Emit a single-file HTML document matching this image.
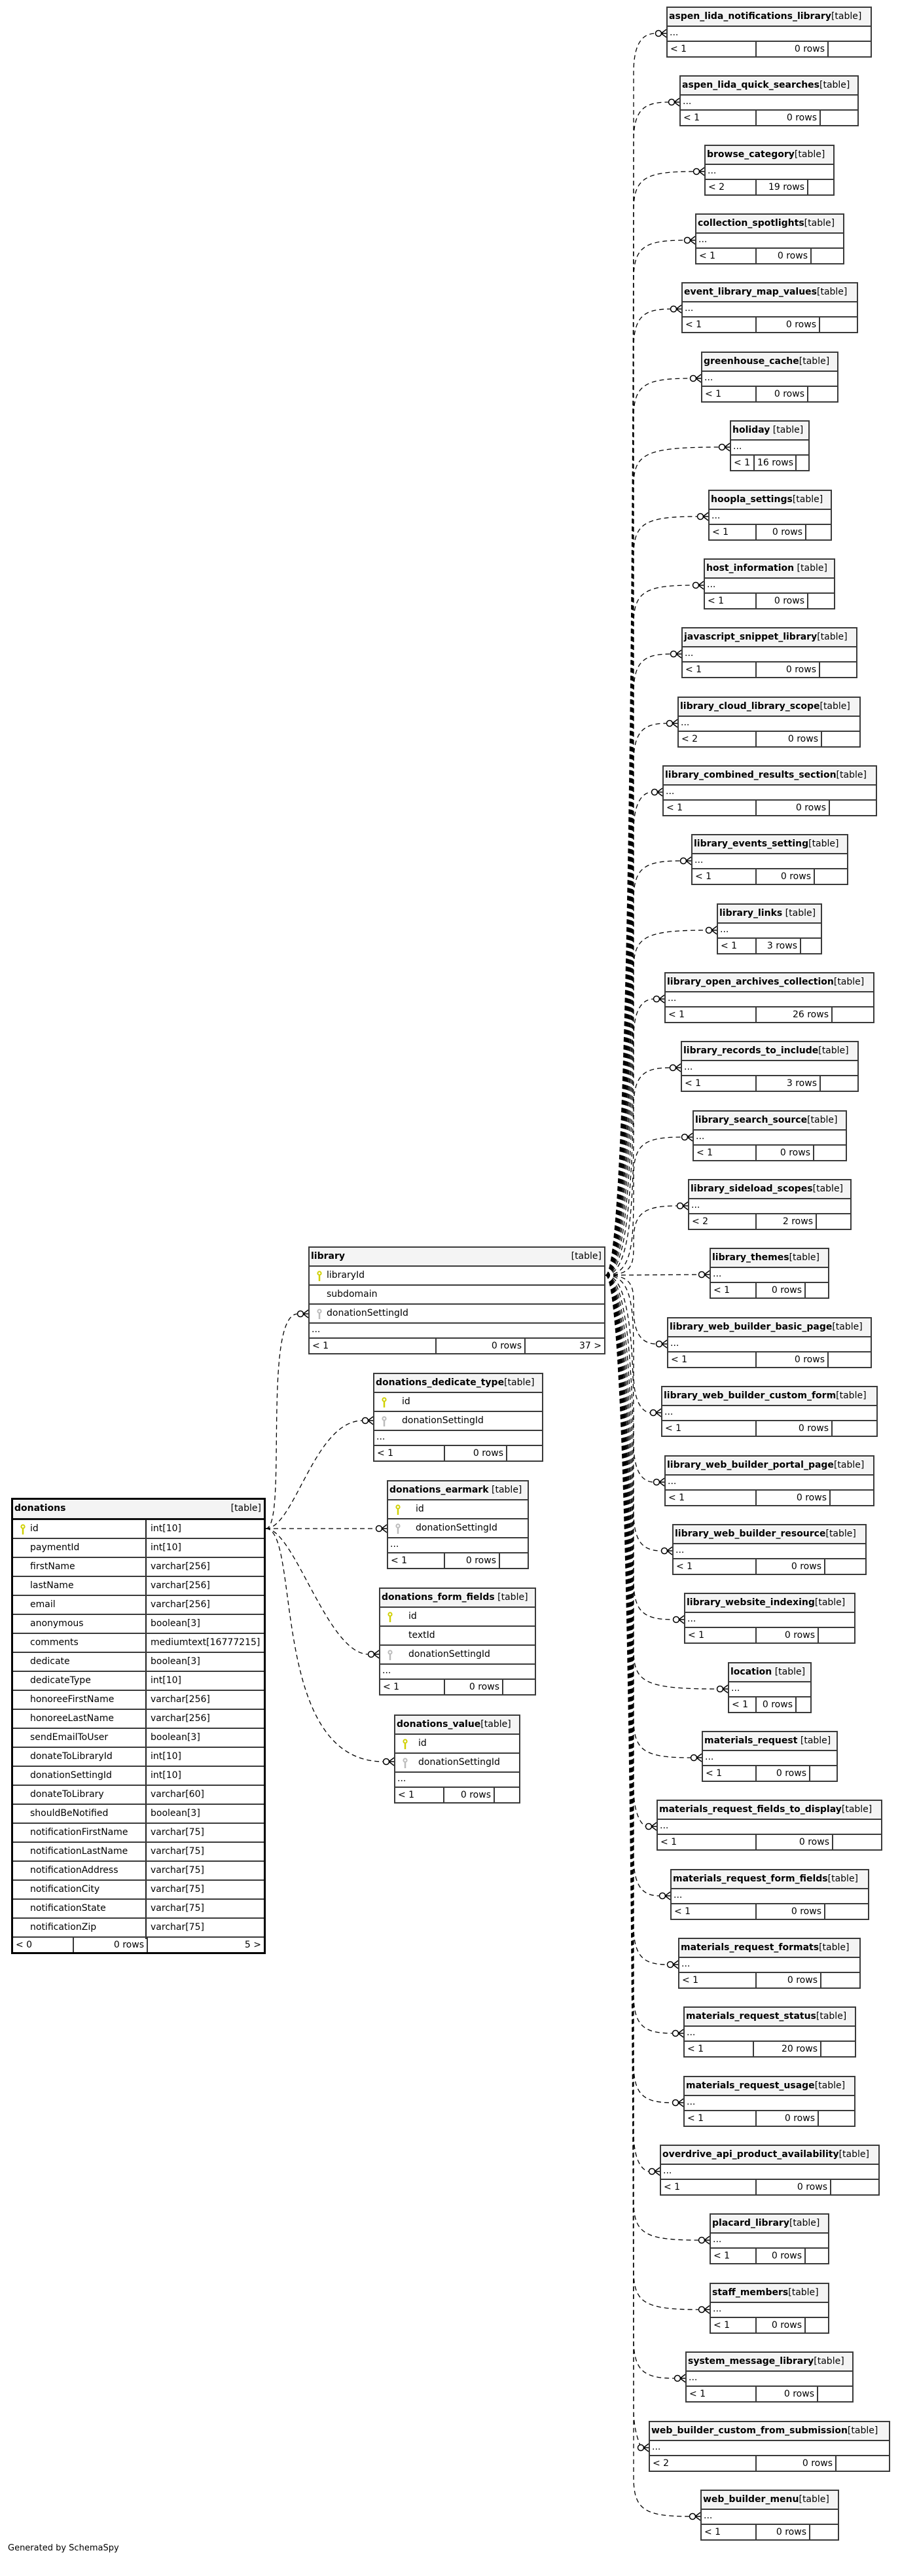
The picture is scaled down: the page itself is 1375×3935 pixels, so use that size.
<!DOCTYPE html>
<html><head><meta charset="utf-8"><style>
body{margin:0;width:1375px;height:3935px;position:relative;background:#fff;font-family:"DejaVu Sans","Liberation Sans",sans-serif;font-size:14px;color:#000;overflow:hidden}
.t{position:absolute;border:2px solid #3a3a3a;background:#fff;box-sizing:border-box}
.h{height:27px;background:#f4f4f4;border-bottom:2px solid #3a3a3a;white-space:nowrap;line-height:26px;padding-left:2px;overflow:hidden}
.h b{font-weight:bold}
.h i{font-style:normal;float:right;padding-right:4px}
.r{height:21px;border-bottom:2px solid #3a3a3a;line-height:18px;padding-left:3px;white-space:nowrap}
.c{height:27px;border-bottom:2px solid #3a3a3a;line-height:27px;white-space:nowrap;position:relative}
.f{height:22px;display:flex;line-height:22px;white-space:nowrap}
.f span{box-sizing:border-box;border-right:2px solid #3a3a3a;padding:0 4px;overflow:hidden}
.f span:last-child{border-right:none;flex:1}
.f span.rt{text-align:right}
.k{position:absolute;top:6px}
svg.e{position:absolute;left:0;top:0}
</style></head><body>
<svg class="e" width="1375" height="3935" viewBox="0 0 1375 3935" fill="none" stroke="#000" stroke-width="1.3">
<defs><g id="cf"><circle cx="-12" cy="0" r="4.5" fill="#fff" stroke="#000" stroke-width="1.5"/><path d="M-8 0 L0 -6 M-8 0 L0 0 M-8 0 L0 6" stroke-width="1.5"/></g></defs>
<g stroke-dasharray="7,5">
<path d="M925 1948 C970 1948 968 201 968 111 C968 61 985 51 1002 51"/>
<path d="M925 1948 C970 1948 968 306 968 216 C968 166 985 156 1022 156"/>
<path d="M925 1948 C970 1948 968 412 968 322 C968 272 985 262 1060 262"/>
<path d="M925 1948 C970 1948 968 517 968 427 C968 377 985 367 1046 367"/>
<path d="M925 1948 C970 1948 968 622 968 532 C968 482 985 472 1025 472"/>
<path d="M925 1948 C970 1948 968 728 968 638 C968 588 985 578 1055 578"/>
<path d="M925 1948 C970 1948 968 833 968 743 C968 693 985 683 1099 683"/>
<path d="M925 1948 C970 1948 968 939 968 849 C968 799 985 789 1066 789"/>
<path d="M925 1948 C970 1948 968 1044 968 954 C968 904 985 894 1059 894"/>
<path d="M925 1948 C970 1948 968 1149 968 1059 C968 1009 985 999 1025 999"/>
<path d="M925 1948 C970 1948 968 1255 968 1165 C968 1115 985 1105 1019 1105"/>
<path d="M925 1948 C970 1948 968 1360 968 1270 C968 1220 985 1210 996 1210"/>
<path d="M925 1948 C970 1948 968 1465 968 1375 C968 1325 985 1315 1040 1315"/>
<path d="M925 1948 C970 1948 968 1571 968 1481 C968 1431 985 1421 1079 1421"/>
<path d="M925 1948 C970 1948 968 1676 968 1586 C968 1536 985 1526 999 1526"/>
<path d="M925 1948 C970 1948 968 1781 968 1691 C968 1641 985 1631 1024 1631"/>
<path d="M925 1948 C970 1948 968 1887 968 1797 C968 1747 985 1737 1042 1737"/>
<path d="M925 1948 C970 1948 968 1927 968 1895 C968 1852 985 1842 1035 1842"/>
<path d="M925 1948 L1068 1947"/>
<path d="M925 1948 C970 1948 968 1969 968 2000 C968 2043 985 2053 1003 2053"/>
<path d="M925 1948 C970 1948 968 2008 968 2098 C968 2148 985 2158 994 2158"/>
<path d="M925 1948 C970 1948 968 2114 968 2204 C968 2254 985 2264 999 2264"/>
<path d="M925 1948 C970 1948 968 2219 968 2309 C968 2359 985 2369 1011 2369"/>
<path d="M925 1948 C970 1948 968 2324 968 2414 C968 2464 985 2474 1029 2474"/>
<path d="M925 1948 C970 1948 968 2430 968 2520 C968 2570 985 2580 1096 2580"/>
<path d="M925 1948 C970 1948 968 2535 968 2625 C968 2675 985 2685 1056 2685"/>
<path d="M925 1948 C970 1948 968 2640 968 2730 C968 2780 985 2790 987 2790"/>
<path d="M925 1948 C970 1948 968 2746 968 2836 C968 2886 985 2896 1008 2896"/>
<path d="M925 1948 C970 1948 968 2851 968 2941 C968 2991 985 3001 1020 3001"/>
<path d="M925 1948 C970 1948 968 2956 968 3046 C968 3096 985 3106 1028 3106"/>
<path d="M925 1948 C970 1948 968 3062 968 3152 C968 3202 985 3212 1028 3212"/>
<path d="M925 1948 C970 1948 968 3167 968 3257 C968 3307 985 3317 992 3317"/>
<path d="M925 1948 C970 1948 968 3272 968 3362 C968 3412 985 3422 1068 3422"/>
<path d="M925 1948 C970 1948 968 3378 968 3468 C968 3518 985 3528 1068 3528"/>
<path d="M925 1948 C970 1948 968 3483 968 3573 C968 3623 985 3633 1031 3633"/>
<path d="M925 1948 C970 1948 968 3589 968 3679 C968 3729 985 3739 975 3739"/>
<path d="M925 1948 C970 1948 968 3694 968 3784 C968 3834 985 3844 1054 3844"/>
<path d="M406 2335 C440 2335 400 2007 455 2007"/>
<path d="M406 2335 C450 2335 480 2170 554 2170"/>
<path d="M406 2335 L575 2335"/>
<path d="M406 2335 C450 2335 500 2527 563 2527"/>
<path d="M406 2335 C460 2335 410 2691 586 2691"/>
</g>
<g>
<use href="#cf" x="1018" y="51"/><use href="#cf" x="1038" y="156"/><use href="#cf" x="1076" y="262"/><use href="#cf" x="1062" y="367"/><use href="#cf" x="1041" y="472"/><use href="#cf" x="1071" y="578"/><use href="#cf" x="1115" y="683"/><use href="#cf" x="1082" y="789"/><use href="#cf" x="1075" y="894"/><use href="#cf" x="1041" y="999"/><use href="#cf" x="1035" y="1105"/><use href="#cf" x="1012" y="1210"/><use href="#cf" x="1056" y="1315"/><use href="#cf" x="1095" y="1421"/><use href="#cf" x="1015" y="1526"/><use href="#cf" x="1040" y="1631"/><use href="#cf" x="1058" y="1737"/><use href="#cf" x="1051" y="1842"/><use href="#cf" x="1084" y="1947"/><use href="#cf" x="1019" y="2053"/><use href="#cf" x="1010" y="2158"/><use href="#cf" x="1015" y="2264"/><use href="#cf" x="1027" y="2369"/><use href="#cf" x="1045" y="2474"/><use href="#cf" x="1112" y="2580"/><use href="#cf" x="1072" y="2685"/><use href="#cf" x="1003" y="2790"/><use href="#cf" x="1024" y="2896"/><use href="#cf" x="1036" y="3001"/><use href="#cf" x="1044" y="3106"/><use href="#cf" x="1044" y="3212"/><use href="#cf" x="1008" y="3317"/><use href="#cf" x="1084" y="3422"/><use href="#cf" x="1084" y="3528"/><use href="#cf" x="1047" y="3633"/><use href="#cf" x="991" y="3739"/><use href="#cf" x="1070" y="3844"/>
<use href="#cf" x="471" y="2007"/><use href="#cf" x="570" y="2170"/><use href="#cf" x="591" y="2335"/><use href="#cf" x="579" y="2527"/><use href="#cf" x="602" y="2691"/>
</g>
</svg>

<div class="t" style="left:1018px;top:10px;width:314px"><div class="h"><b>aspen_lida_notifications_library</b>[table]</div><div class="r">...</div><div class="f"><span style="width:136px">&lt; 1</span><span class="rt" style="width:110px">0 rows</span><span></span></div></div>
<div class="t" style="left:1038px;top:115px;width:274px"><div class="h"><b>aspen_lida_quick_searches</b>[table]</div><div class="r">...</div><div class="f"><span style="width:116px">&lt; 1</span><span class="rt" style="width:98px">0 rows</span><span></span></div></div>
<div class="t" style="left:1076px;top:221px;width:199px"><div class="h"><b>browse_category</b>[table]</div><div class="r">...</div><div class="f"><span style="width:78px">&lt; 2</span><span class="rt" style="width:79px">19 rows</span><span></span></div></div>
<div class="t" style="left:1062px;top:326px;width:228px"><div class="h"><b>collection_spotlights</b>[table]</div><div class="r">...</div><div class="f"><span style="width:92px">&lt; 1</span><span class="rt" style="width:84px">0 rows</span><span></span></div></div>
<div class="t" style="left:1041px;top:431px;width:270px"><div class="h"><b>event_library_map_values</b>[table]</div><div class="r">...</div><div class="f"><span style="width:113px">&lt; 1</span><span class="rt" style="width:97px">0 rows</span><span></span></div></div>
<div class="t" style="left:1071px;top:537px;width:210px"><div class="h"><b>greenhouse_cache</b>[table]</div><div class="r">...</div><div class="f"><span style="width:83px">&lt; 1</span><span class="rt" style="width:79px">0 rows</span><span></span></div></div>
<div class="t" style="left:1115px;top:642px;width:122px"><div class="h"><b>holiday</b> [table]</div><div class="r">...</div><div class="f"><span style="width:36px">&lt; 1</span><span class="rt" style="width:64px">16 rows</span><span></span></div></div>
<div class="t" style="left:1082px;top:748px;width:189px"><div class="h"><b>hoopla_settings</b>[table]</div><div class="r">...</div><div class="f"><span style="width:72px">&lt; 1</span><span class="rt" style="width:76px">0 rows</span><span></span></div></div>
<div class="t" style="left:1075px;top:853px;width:201px"><div class="h"><b>host_information</b> [table]</div><div class="r">...</div><div class="f"><span style="width:79px">&lt; 1</span><span class="rt" style="width:79px">0 rows</span><span></span></div></div>
<div class="t" style="left:1041px;top:958px;width:269px"><div class="h"><b>javascript_snippet_library</b>[table]</div><div class="r">...</div><div class="f"><span style="width:113px">&lt; 1</span><span class="rt" style="width:97px">0 rows</span><span></span></div></div>
<div class="t" style="left:1035px;top:1064px;width:280px"><div class="h"><b>library_cloud_library_scope</b>[table]</div><div class="r">...</div><div class="f"><span style="width:119px">&lt; 2</span><span class="rt" style="width:100px">0 rows</span><span></span></div></div>
<div class="t" style="left:1012px;top:1169px;width:328px"><div class="h"><b>library_combined_results_section</b>[table]</div><div class="r">...</div><div class="f"><span style="width:142px">&lt; 1</span><span class="rt" style="width:112px">0 rows</span><span></span></div></div>
<div class="t" style="left:1056px;top:1274px;width:240px"><div class="h"><b>library_events_setting</b>[table]</div><div class="r">...</div><div class="f"><span style="width:98px">&lt; 1</span><span class="rt" style="width:89px">0 rows</span><span></span></div></div>
<div class="t" style="left:1095px;top:1380px;width:161px"><div class="h"><b>library_links</b> [table]</div><div class="r">...</div><div class="f"><span style="width:59px">&lt; 1</span><span class="rt" style="width:68px">3 rows</span><span></span></div></div>
<div class="t" style="left:1015px;top:1485px;width:321px"><div class="h"><b>library_open_archives_collection</b>[table]</div><div class="r">...</div><div class="f"><span style="width:139px">&lt; 1</span><span class="rt" style="width:116px">26 rows</span><span></span></div></div>
<div class="t" style="left:1040px;top:1590px;width:272px"><div class="h"><b>library_records_to_include</b>[table]</div><div class="r">...</div><div class="f"><span style="width:114px">&lt; 1</span><span class="rt" style="width:98px">3 rows</span><span></span></div></div>
<div class="t" style="left:1058px;top:1696px;width:236px"><div class="h"><b>library_search_source</b>[table]</div><div class="r">...</div><div class="f"><span style="width:96px">&lt; 1</span><span class="rt" style="width:88px">0 rows</span><span></span></div></div>
<div class="t" style="left:1051px;top:1801px;width:250px"><div class="h"><b>library_sideload_scopes</b>[table]</div><div class="r">...</div><div class="f"><span style="width:103px">&lt; 2</span><span class="rt" style="width:92px">2 rows</span><span></span></div></div>
<div class="t" style="left:1084px;top:1906px;width:183px"><div class="h"><b>library_themes</b>[table]</div><div class="r">...</div><div class="f"><span style="width:70px">&lt; 1</span><span class="rt" style="width:75px">0 rows</span><span></span></div></div>
<div class="t" style="left:1019px;top:2012px;width:313px"><div class="h"><b>library_web_builder_basic_page</b>[table]</div><div class="r">...</div><div class="f"><span style="width:135px">&lt; 1</span><span class="rt" style="width:110px">0 rows</span><span></span></div></div>
<div class="t" style="left:1010px;top:2117px;width:331px"><div class="h"><b>library_web_builder_custom_form</b>[table]</div><div class="r">...</div><div class="f"><span style="width:144px">&lt; 1</span><span class="rt" style="width:116px">0 rows</span><span></span></div></div>
<div class="t" style="left:1015px;top:2223px;width:321px"><div class="h"><b>library_web_builder_portal_page</b>[table]</div><div class="r">...</div><div class="f"><span style="width:139px">&lt; 1</span><span class="rt" style="width:113px">0 rows</span><span></span></div></div>
<div class="t" style="left:1027px;top:2328px;width:297px"><div class="h"><b>library_web_builder_resource</b>[table]</div><div class="r">...</div><div class="f"><span style="width:127px">&lt; 1</span><span class="rt" style="width:105px">0 rows</span><span></span></div></div>
<div class="t" style="left:1045px;top:2433px;width:262px"><div class="h"><b>library_website_indexing</b>[table]</div><div class="r">...</div><div class="f"><span style="width:109px">&lt; 1</span><span class="rt" style="width:95px">0 rows</span><span></span></div></div>
<div class="t" style="left:1112px;top:2539px;width:128px"><div class="h"><b>location</b> [table]</div><div class="r">...</div><div class="f"><span style="width:42px">&lt; 1</span><span class="rt" style="width:61px">0 rows</span><span></span></div></div>
<div class="t" style="left:1072px;top:2644px;width:208px"><div class="h"><b>materials_request</b> [table]</div><div class="r">...</div><div class="f"><span style="width:82px">&lt; 1</span><span class="rt" style="width:82px">0 rows</span><span></span></div></div>
<div class="t" style="left:1003px;top:2749px;width:345px"><div class="h"><b>materials_request_fields_to_display</b>[table]</div><div class="r">...</div><div class="f"><span style="width:151px">&lt; 1</span><span class="rt" style="width:117px">0 rows</span><span></span></div></div>
<div class="t" style="left:1024px;top:2855px;width:304px"><div class="h"><b>materials_request_form_fields</b>[table]</div><div class="r">...</div><div class="f"><span style="width:130px">&lt; 1</span><span class="rt" style="width:105px">0 rows</span><span></span></div></div>
<div class="t" style="left:1036px;top:2960px;width:279px"><div class="h"><b>materials_request_formats</b>[table]</div><div class="r">...</div><div class="f"><span style="width:118px">&lt; 1</span><span class="rt" style="width:99px">0 rows</span><span></span></div></div>
<div class="t" style="left:1044px;top:3065px;width:264px"><div class="h"><b>materials_request_status</b>[table]</div><div class="r">...</div><div class="f"><span style="width:106px">&lt; 1</span><span class="rt" style="width:103px">20 rows</span><span></span></div></div>
<div class="t" style="left:1044px;top:3171px;width:263px"><div class="h"><b>materials_request_usage</b>[table]</div><div class="r">...</div><div class="f"><span style="width:110px">&lt; 1</span><span class="rt" style="width:95px">0 rows</span><span></span></div></div>
<div class="t" style="left:1008px;top:3276px;width:336px"><div class="h"><b>overdrive_api_product_availability</b>[table]</div><div class="r">...</div><div class="f"><span style="width:146px">&lt; 1</span><span class="rt" style="width:114px">0 rows</span><span></span></div></div>
<div class="t" style="left:1084px;top:3381px;width:183px"><div class="h"><b>placard_library</b>[table]</div><div class="r">...</div><div class="f"><span style="width:70px">&lt; 1</span><span class="rt" style="width:75px">0 rows</span><span></span></div></div>
<div class="t" style="left:1084px;top:3487px;width:183px"><div class="h"><b>staff_members</b>[table]</div><div class="r">...</div><div class="f"><span style="width:70px">&lt; 1</span><span class="rt" style="width:75px">0 rows</span><span></span></div></div>
<div class="t" style="left:1047px;top:3592px;width:257px"><div class="h"><b>system_message_library</b>[table]</div><div class="r">...</div><div class="f"><span style="width:107px">&lt; 1</span><span class="rt" style="width:94px">0 rows</span><span></span></div></div>
<div class="t" style="left:991px;top:3698px;width:369px"><div class="h"><b>web_builder_custom_from_submission</b>[table]</div><div class="r">...</div><div class="f"><span style="width:163px">&lt; 2</span><span class="rt" style="width:122px">0 rows</span><span></span></div></div>
<div class="t" style="left:1070px;top:3803px;width:212px"><div class="h"><b>web_builder_menu</b>[table]</div><div class="r">...</div><div class="f"><span style="width:84px">&lt; 1</span><span class="rt" style="width:82px">0 rows</span><span></span></div></div>

<div class="t" style="left:471px;top:1904px;width:454px"><div class="h"><b>library</b><i>[table]</i></div>
<div class="c"><svg class="k" style="left:11px" width="8" height="17"><circle cx="4" cy="4" r="2.6" stroke="#d0d000" stroke-width="2" fill="none"/><line x1="4" y1="6" x2="4" y2="16" stroke="#d0d000" stroke-width="2.5"/></svg><span style="position:absolute;left:26px">libraryId</span></div>
<div class="c"><span style="position:absolute;left:26px">subdomain</span></div>
<div class="c"><svg class="k" style="left:11px" width="8" height="17"><circle cx="4" cy="4" r="2.6" stroke="#bbb" stroke-width="2" fill="none"/><line x1="4" y1="6" x2="4" y2="16" stroke="#bbb" stroke-width="2.5"/></svg><span style="position:absolute;left:26px">donationSettingId</span></div>
<div class="r">...</div>
<div class="f"><span style="width:194px">&lt; 1</span><span class="rt" style="width:136px">0 rows</span><span class="rt">37 &gt;</span></div></div>

<div class="t" style="left:570px;top:2097px;width:260px"><div class="h"><b>donations_dedicate_type</b>[table]</div>
<div class="c"><svg class="k" style="left:11px" width="8" height="17"><circle cx="4" cy="4" r="2.6" stroke="#d0d000" stroke-width="2" fill="none"/><line x1="4" y1="6" x2="4" y2="16" stroke="#d0d000" stroke-width="2.5"/></svg><span style="position:absolute;left:42px">id</span></div>
<div class="c"><svg class="k" style="left:11px" width="8" height="17"><circle cx="4" cy="4" r="2.6" stroke="#bbb" stroke-width="2" fill="none"/><line x1="4" y1="6" x2="4" y2="16" stroke="#bbb" stroke-width="2.5"/></svg><span style="position:absolute;left:42px">donationSettingId</span></div>
<div class="r">...</div>
<div class="f"><span style="width:108px">&lt; 1</span><span class="rt" style="width:95px">0 rows</span><span></span></div></div>

<div class="t" style="left:591px;top:2261px;width:217px"><div class="h"><b>donations_earmark</b> [table]</div>
<div class="c"><svg class="k" style="left:11px" width="8" height="17"><circle cx="4" cy="4" r="2.6" stroke="#d0d000" stroke-width="2" fill="none"/><line x1="4" y1="6" x2="4" y2="16" stroke="#d0d000" stroke-width="2.5"/></svg><span style="position:absolute;left:42px">id</span></div>
<div class="c"><svg class="k" style="left:11px" width="8" height="17"><circle cx="4" cy="4" r="2.6" stroke="#bbb" stroke-width="2" fill="none"/><line x1="4" y1="6" x2="4" y2="16" stroke="#bbb" stroke-width="2.5"/></svg><span style="position:absolute;left:42px">donationSettingId</span></div>
<div class="r">...</div>
<div class="f"><span style="width:87px">&lt; 1</span><span class="rt" style="width:84px">0 rows</span><span></span></div></div>

<div class="t" style="left:579px;top:2425px;width:240px"><div class="h"><b>donations_form_fields</b> [table]</div>
<div class="c"><svg class="k" style="left:11px" width="8" height="17"><circle cx="4" cy="4" r="2.6" stroke="#d0d000" stroke-width="2" fill="none"/><line x1="4" y1="6" x2="4" y2="16" stroke="#d0d000" stroke-width="2.5"/></svg><span style="position:absolute;left:43px">id</span></div>
<div class="c"><span style="position:absolute;left:43px">textId</span></div>
<div class="c"><svg class="k" style="left:11px" width="8" height="17"><circle cx="4" cy="4" r="2.6" stroke="#bbb" stroke-width="2" fill="none"/><line x1="4" y1="6" x2="4" y2="16" stroke="#bbb" stroke-width="2.5"/></svg><span style="position:absolute;left:43px">donationSettingId</span></div>
<div class="r">...</div>
<div class="f"><span style="width:99px">&lt; 1</span><span class="rt" style="width:89px">0 rows</span><span></span></div></div>

<div class="t" style="left:602px;top:2619px;width:193px"><div class="h"><b>donations_value</b>[table]</div>
<div class="c"><svg class="k" style="left:11px" width="8" height="17"><circle cx="4" cy="4" r="2.6" stroke="#d0d000" stroke-width="2" fill="none"/><line x1="4" y1="6" x2="4" y2="16" stroke="#d0d000" stroke-width="2.5"/></svg><span style="position:absolute;left:35px">id</span></div>
<div class="c"><svg class="k" style="left:11px" width="8" height="17"><circle cx="4" cy="4" r="2.6" stroke="#bbb" stroke-width="2" fill="none"/><line x1="4" y1="6" x2="4" y2="16" stroke="#bbb" stroke-width="2.5"/></svg><span style="position:absolute;left:35px">donationSettingId</span></div>
<div class="r">...</div>
<div class="f"><span style="width:75px">&lt; 1</span><span class="rt" style="width:77px">0 rows</span><span></span></div></div>

<div class="t" style="left:17px;top:2288px;width:389px;border:3px solid #000">
<div class="h" style="height:28px;border-bottom:3px solid #111"><b>donations</b><i>[table]</i></div>
<div style="position:absolute;left:202px;top:31px;width:2px;height:640px;background:#222"></div>
<div class="c"><svg class="k" style="left:11px" width="8" height="17"><circle cx="4" cy="4" r="2.6" stroke="#d0d000" stroke-width="2" fill="none"/><line x1="4" y1="6" x2="4" y2="16" stroke="#d0d000" stroke-width="2.5"/></svg><span style="position:absolute;left:26px">id</span><span style="position:absolute;left:210px">int[10]</span></div>
<div class="c"><span style="position:absolute;left:26px">paymentId</span><span style="position:absolute;left:210px">int[10]</span></div>
<div class="c"><span style="position:absolute;left:26px">firstName</span><span style="position:absolute;left:210px">varchar[256]</span></div>
<div class="c"><span style="position:absolute;left:26px">lastName</span><span style="position:absolute;left:210px">varchar[256]</span></div>
<div class="c"><span style="position:absolute;left:26px">email</span><span style="position:absolute;left:210px">varchar[256]</span></div>
<div class="c"><span style="position:absolute;left:26px">anonymous</span><span style="position:absolute;left:210px">boolean[3]</span></div>
<div class="c"><span style="position:absolute;left:26px">comments</span><span style="position:absolute;left:210px">mediumtext[16777215]</span></div>
<div class="c"><span style="position:absolute;left:26px">dedicate</span><span style="position:absolute;left:210px">boolean[3]</span></div>
<div class="c"><span style="position:absolute;left:26px">dedicateType</span><span style="position:absolute;left:210px">int[10]</span></div>
<div class="c"><span style="position:absolute;left:26px">honoreeFirstName</span><span style="position:absolute;left:210px">varchar[256]</span></div>
<div class="c"><span style="position:absolute;left:26px">honoreeLastName</span><span style="position:absolute;left:210px">varchar[256]</span></div>
<div class="c"><span style="position:absolute;left:26px">sendEmailToUser</span><span style="position:absolute;left:210px">boolean[3]</span></div>
<div class="c"><span style="position:absolute;left:26px">donateToLibraryId</span><span style="position:absolute;left:210px">int[10]</span></div>
<div class="c"><span style="position:absolute;left:26px">donationSettingId</span><span style="position:absolute;left:210px">int[10]</span></div>
<div class="c"><span style="position:absolute;left:26px">donateToLibrary</span><span style="position:absolute;left:210px">varchar[60]</span></div>
<div class="c"><span style="position:absolute;left:26px">shouldBeNotified</span><span style="position:absolute;left:210px">boolean[3]</span></div>
<div class="c"><span style="position:absolute;left:26px">notificationFirstName</span><span style="position:absolute;left:210px">varchar[75]</span></div>
<div class="c"><span style="position:absolute;left:26px">notificationLastName</span><span style="position:absolute;left:210px">varchar[75]</span></div>
<div class="c"><span style="position:absolute;left:26px">notificationAddress</span><span style="position:absolute;left:210px">varchar[75]</span></div>
<div class="c"><span style="position:absolute;left:26px">notificationCity</span><span style="position:absolute;left:210px">varchar[75]</span></div>
<div class="c"><span style="position:absolute;left:26px">notificationState</span><span style="position:absolute;left:210px">varchar[75]</span></div>
<div class="c"><span style="position:absolute;left:26px">notificationZip</span><span style="position:absolute;left:210px">varchar[75]</span></div>
<div class="f"><span style="width:93px">&lt; 0</span><span class="rt" style="width:113px">0 rows</span><span class="rt">5 &gt;</span></div>
</div>

<div style="position:absolute;left:12px;top:3885px;font-size:13px">Generated by SchemaSpy</div>
</body></html>
